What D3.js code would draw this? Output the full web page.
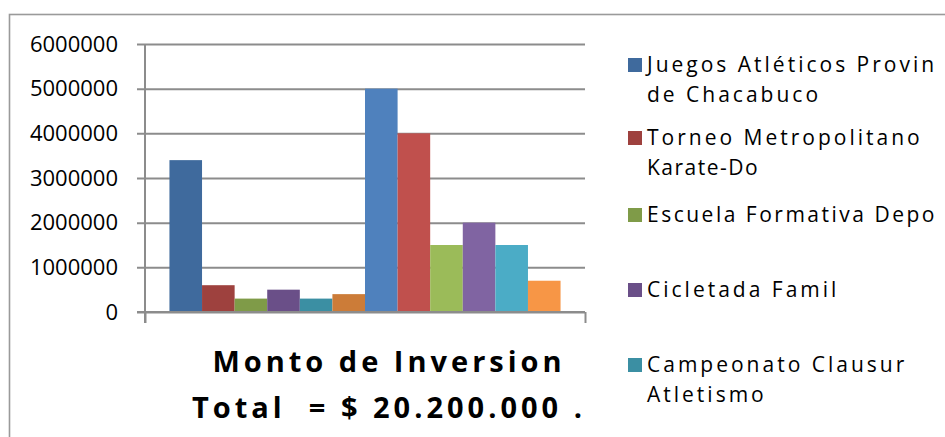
<!DOCTYPE html>
<html>
<head>
<meta charset="utf-8">
<script src="https://cdn.jsdelivr.net/npm/d3@7"></script>
<style>
  body { margin: 0; background: white; }
  svg { display: block; font-family: "Open Sans", sans-serif; }
</style>
</head>
<body>
<svg id="plot"></svg>
<script>
// Define data
const category = ["Monto de Inversion"];
const values = [3400000, 600000, 300000, 500000, 300000, 400000,
                5000000, 4000000, 1500000, 2000000, 1500000, 700000];
const colors = ["#3f6a9d", "#9e413e", "#7f9b48", "#6a4f88", "#3b8fa3", "#cc7c38",
                "#4f81bd", "#c0504d", "#9bbb59", "#8064a2", "#4bacc6", "#f79646"];
const yTicks = [0, 1000000, 2000000, 3000000, 4000000, 5000000, 6000000];
// legend lines, as much as is visible
const legendLines = [
  ["Juegos Atléticos Provin", "de Chacabuco"],
  ["Torneo Metropolitano", "Karate-Do"],
  ["Escuela Formativa Depo"],
  ["Cicletada Famil"],
  ["Campeonato Clausur", "Atletismo"]
];
const titleLines = ["Monto de Inversion", "Total  = $ 20.200.000 ."];

// Dimensions
let width = 945, height = 437;
let margin = { top: 44, bottom: 125, left: 145, right: 360 };

let svg = d3.select('#plot')
  .attr('width', width)
  .attr('height', height)
  .style('background', 'white');

// outer chart border (runs off the picture right and bottom)
svg.append('rect')
  .attr('x', 9.5)
  .attr('y', 14.5)
  .attr('width', 960)
  .attr('height', 440)
  .attr('fill', 'none')
  .attr('stroke', '#9a9a9a')
  .attr('stroke-width', 1.6);

// Scales
let yScale = d3.scaleLinear()
  .domain([0, 6000000])
  .range([height - margin.bottom, margin.top]);

let x0 = d3.scaleBand()
  .domain(category)
  .range([margin.left, width - margin.right])
  .paddingInner(0)
  .paddingOuter(0.0625);

let x1 = d3.scaleBand()
  .domain(d3.range(values.length))
  .range([0, x0.bandwidth()]);

// Gridlines + y labels
let yAxis = svg.append('g')
  .attr('transform', `translate(${margin.left - 8}, 0)`)
  .call(d3.axisLeft(yScale)
    .tickValues(yTicks)
    .tickFormat(d3.format('d'))
    .tickSize(-(width - margin.right - margin.left + 8))
    .tickPadding(19));

yAxis.select('.domain').remove();
yAxis.selectAll('line')
  .attr('stroke', '#8c8c8c')
  .attr('stroke-width', 2);
yAxis.selectAll('text')
  .attr('font-size', 22)
  .attr('fill', '#000')
  .attr('font-family', '"Open Sans", sans-serif');

// vertical axis line
svg.append('line')
  .attr('x1', margin.left).attr('x2', margin.left)
  .attr('y1', yScale(6000000))
  .attr('y2', yScale(0) + 11)
  .attr('stroke', '#8c8c8c')
  .attr('stroke-width', 2);

// Bars
svg.append('g')
  .selectAll('rect')
  .data(values)
  .enter()
  .append('rect')
  .attr('x', (d, i) => x0(category[0]) + x1(i))
  .attr('y', d => yScale(d))
  .attr('width', x1.bandwidth())
  .attr('height', d => yScale(0) - yScale(d))
  .attr('fill', (d, i) => colors[i]);

// category axis tick marks at the band edges
let xEdge = d3.scaleLinear().domain([0, 1]).range([margin.left, width - margin.right]);
let xAxis = svg.append('g')
  .attr('transform', `translate(0, ${yScale(0)})`)
  .call(d3.axisBottom(xEdge).tickValues([0, 1]).tickFormat('').tickSize(11));
xAxis.select('.domain').remove();
xAxis.selectAll('line')
  .attr('stroke', '#8c8c8c')
  .attr('stroke-width', 2);

// redraw baseline over the bars
svg.append('line')
  .attr('x1', margin.left - 8).attr('x2', width - margin.right)
  .attr('y1', yScale(0)).attr('y2', yScale(0))
  .attr('stroke', '#8c8c8c')
  .attr('stroke-width', 2);

// Title under the plot
let title = svg.append('text')
  .attr('text-anchor', 'middle')
  .attr('font-weight', 'bold')
  .attr('font-size', 29)
  .attr('letter-spacing', 4)
  .style('white-space', 'pre')
  .attr('fill', '#000');
titleLines.forEach((t, i) => {
  title.append('tspan')
    .attr('x', 389)
    .attr('y', 372 + i * 46)
    .text(t);
});

// Legend
let legendTop = [72, 145, 222, 297, 372];
let legendSpacing = [[3, 3], [3, 1.5], [2.5], [3], [3, 3]];
let legend = svg.append('g');
legendLines.forEach((lines, i) => {
  legend.append('rect')
    .attr('x', 628)
    .attr('y', legendTop[i] - 14)
    .attr('width', 14)
    .attr('height', 14)
    .attr('fill', colors[i]);
  lines.forEach((t, j) => {
    legend.append('text')
      .attr('x', 647)
      .attr('y', legendTop[i] + j * 30)
      .attr('font-size', 21)
      .attr('letter-spacing', legendSpacing[i][j])
      .attr('fill', '#000')
      .text(t);
  });
});
</script>
</body>
</html>
